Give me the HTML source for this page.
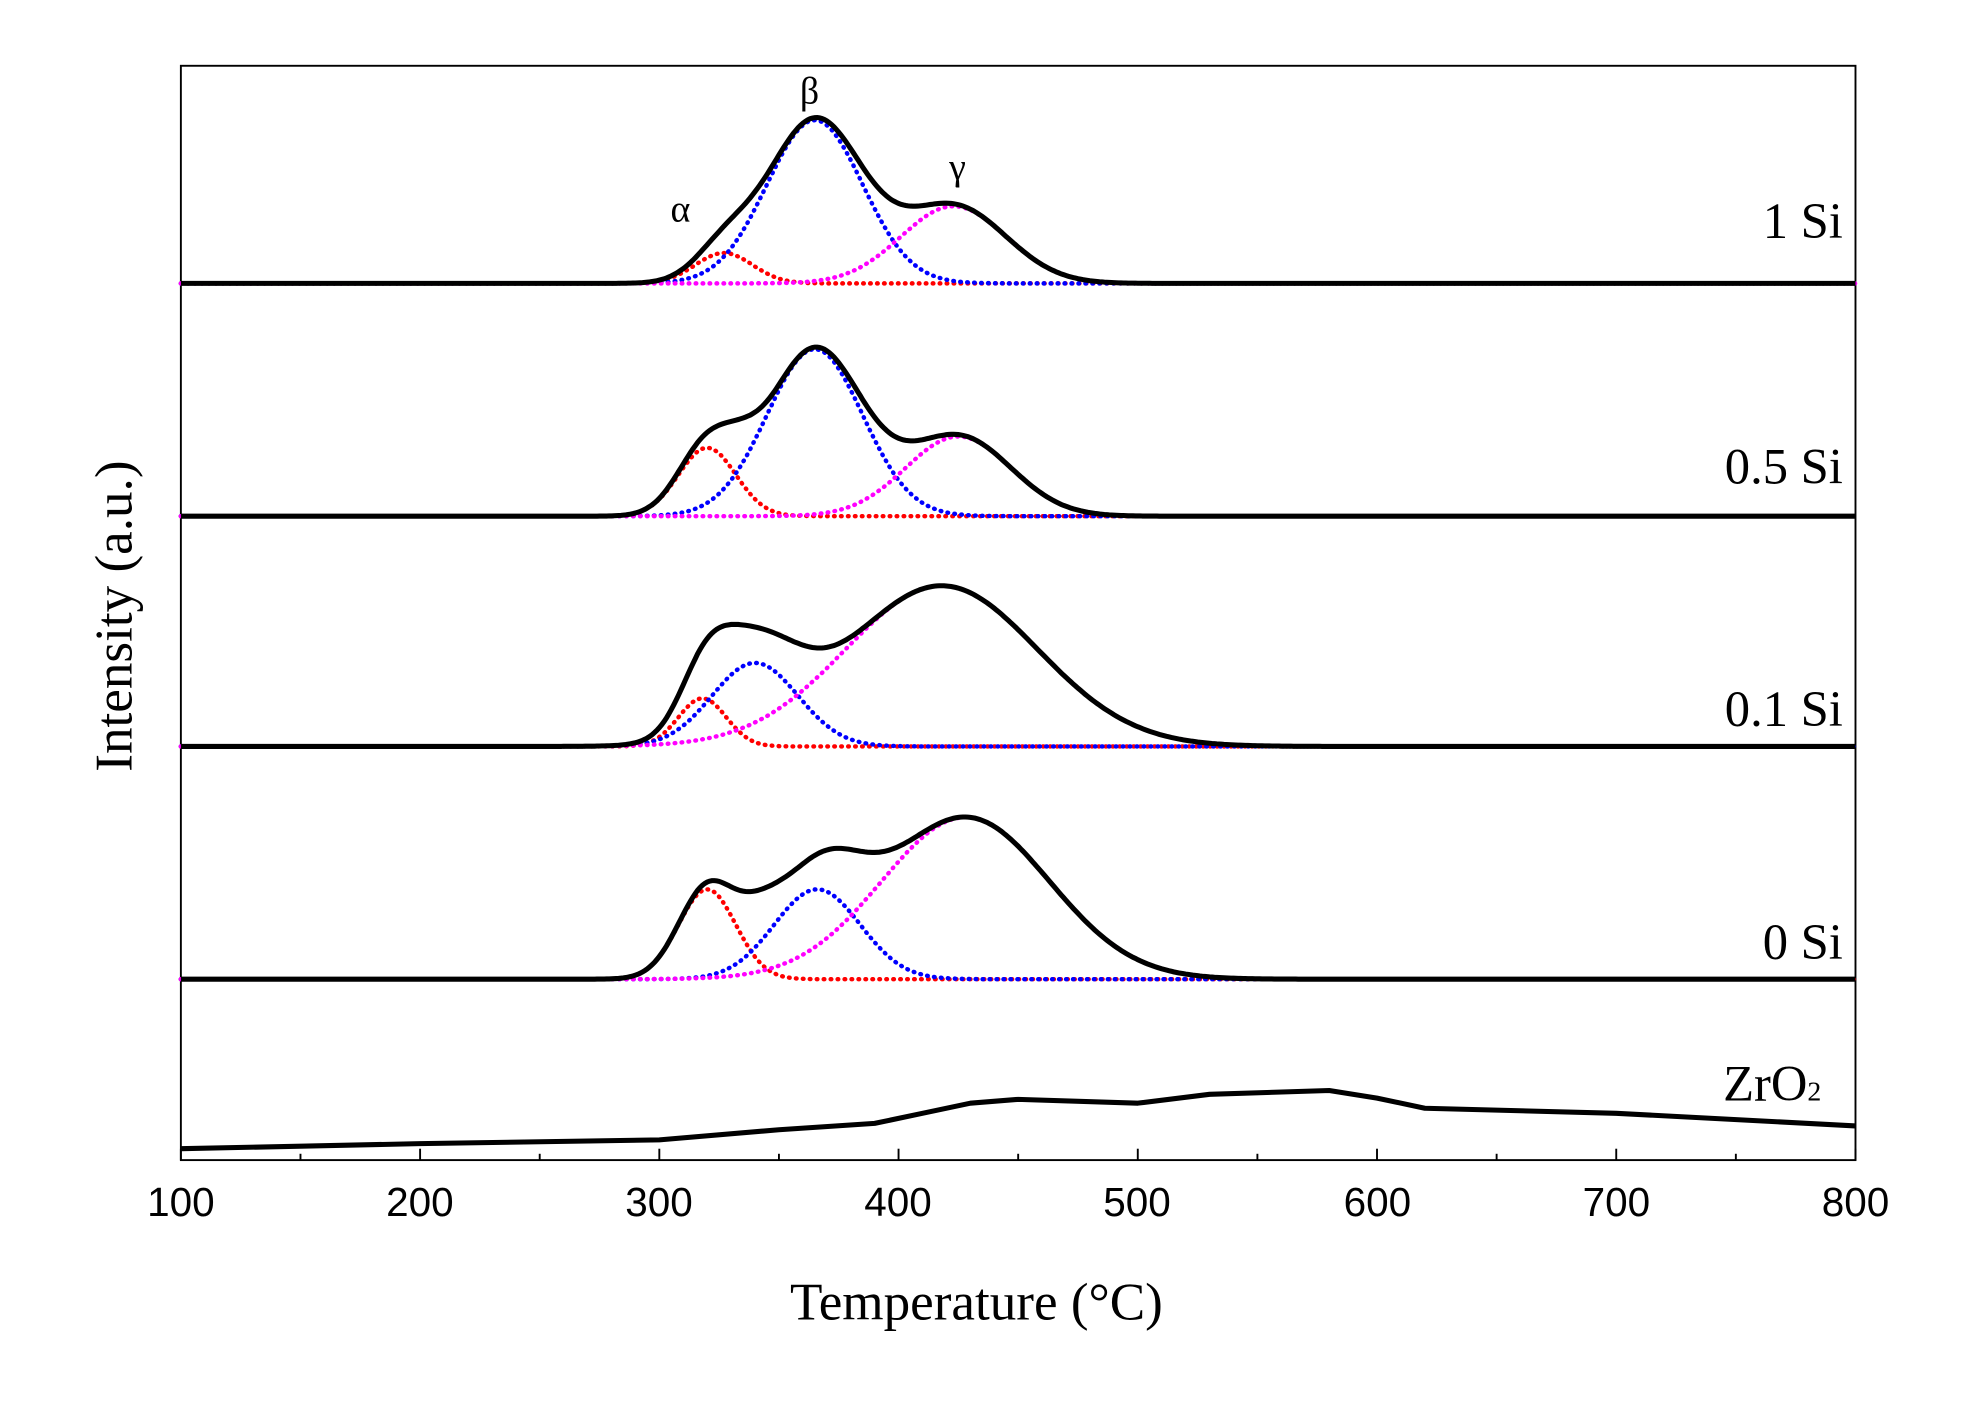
<!DOCTYPE html>
<html><head><meta charset="utf-8"><style>html,body{margin:0;padding:0;background:#fff}svg{display:block}</style></head>
<body>
<svg id="s" width="1963" height="1403" viewBox="0 0 1552 1109" preserveAspectRatio="none" xmlns="http://www.w3.org/2000/svg">
<rect x="143" y="52" width="1324" height="865" fill="none" stroke="#000" stroke-width="1.5"/>
<g id="ticks" stroke="#000" stroke-width="1.5"></g>
<g id="curves"></g>
<g font-family="'Liberation Sans',sans-serif" font-size="32" text-anchor="middle" fill="#000">
<text x="143" y="961">100</text><text x="332" y="961">200</text><text x="521" y="961">300</text><text x="710" y="961">400</text><text x="899" y="961">500</text><text x="1089" y="961">600</text><text x="1278" y="961">700</text><text x="1467" y="961">800</text>
</g>
<g font-family="'Liberation Serif',serif" fill="#000">
<text x="772" y="1043" font-size="42" text-anchor="middle">Temperature (°C)</text>
<text transform="translate(104,487) rotate(-90)" font-size="42" text-anchor="middle">Intensity (a.u.)</text>
<text x="1457" y="188" font-size="40" text-anchor="end">1 Si</text>
<text x="1457" y="382" font-size="40" text-anchor="end">0.5 Si</text>
<text x="1457" y="574" font-size="40" text-anchor="end">0.1 Si</text>
<text x="1457" y="758" font-size="40" text-anchor="end">0 Si</text>
<text x="1440" y="870" font-size="40" text-anchor="end">ZrO<tspan font-size="22">2</tspan></text>
<text x="538" y="175" font-size="30" text-anchor="middle">α</text>
<text x="640" y="82" font-size="30" text-anchor="middle">β</text>
<text x="757" y="142" font-size="30" text-anchor="middle">γ</text>
</g>
</svg>
<script>
var X=function(t){return 143+(t-100)*1.8914;};
var tk=document.getElementById('ticks'),s='';
for(var t=100;t<=800;t+=50){var x=X(t),L=(t%100==0)?9:5;s+='<line x1="'+x+'" y1="917" x2="'+x+'" y2="'+(917-L)+'"/>';}
tk.innerHTML=s;
var sets=[
 [224,[[327,24,12],[365,129,20],[423,61,22]],[]],
 [408,[[320,54,12],[365,132,20],[425,63,22]],[[335,10,8]]],
 [590,[[318,38,10],[340,66,18],[418,127,40]],[[330,10,10]]],
 [774,[[320,71,12],[366,71,18],[428,128,35]],[[342,22,10]]]
];
var cols=['#ff0000','#0000ff','#ff00ff'];
var out='';
function g(t,p){return p[1]*Math.exp(-0.5*Math.pow((t-p[0])/p[2],2));}
sets.forEach(function(st){
 var b=st[0],ps=st[1],ex=st[2];
 ps.forEach(function(p,i){
  var d='';for(var t=100;t<=800;t+=1){d+=(t==100?'M':'L')+X(t).toFixed(1)+','+(b-g(t,p)).toFixed(1);}
  out+='<path d="'+d+'" fill="none" stroke="'+cols[i]+'" stroke-width="3.5" stroke-dasharray="0.5 5" stroke-linecap="round"/>';
 });
 var d='';for(var t=100;t<=800;t+=1){var v=0;ps.concat(ex).forEach(function(p){v+=g(t,p);});d+=(t==100?'M':'L')+X(t).toFixed(1)+','+(b-v).toFixed(1);}
 out+='<path d="'+d+'" fill="none" stroke="#000" stroke-width="4"/>';
});
var z=[[100,908],[200,904],[300,901],[350,893],[390,888],[410,880],[430,872],[450,869],[500,872],[530,865],[580,862],[600,868],[620,876],[700,880],[800,890]];
var d='';z.forEach(function(p,i){d+=(i?'L':'M')+X(p[0]).toFixed(1)+','+p[1];});
out+='<path d="'+d+'" fill="none" stroke="#000" stroke-width="4" stroke-linejoin="round"/>';
document.getElementById('curves').innerHTML=out;
</script>
</body></html>
